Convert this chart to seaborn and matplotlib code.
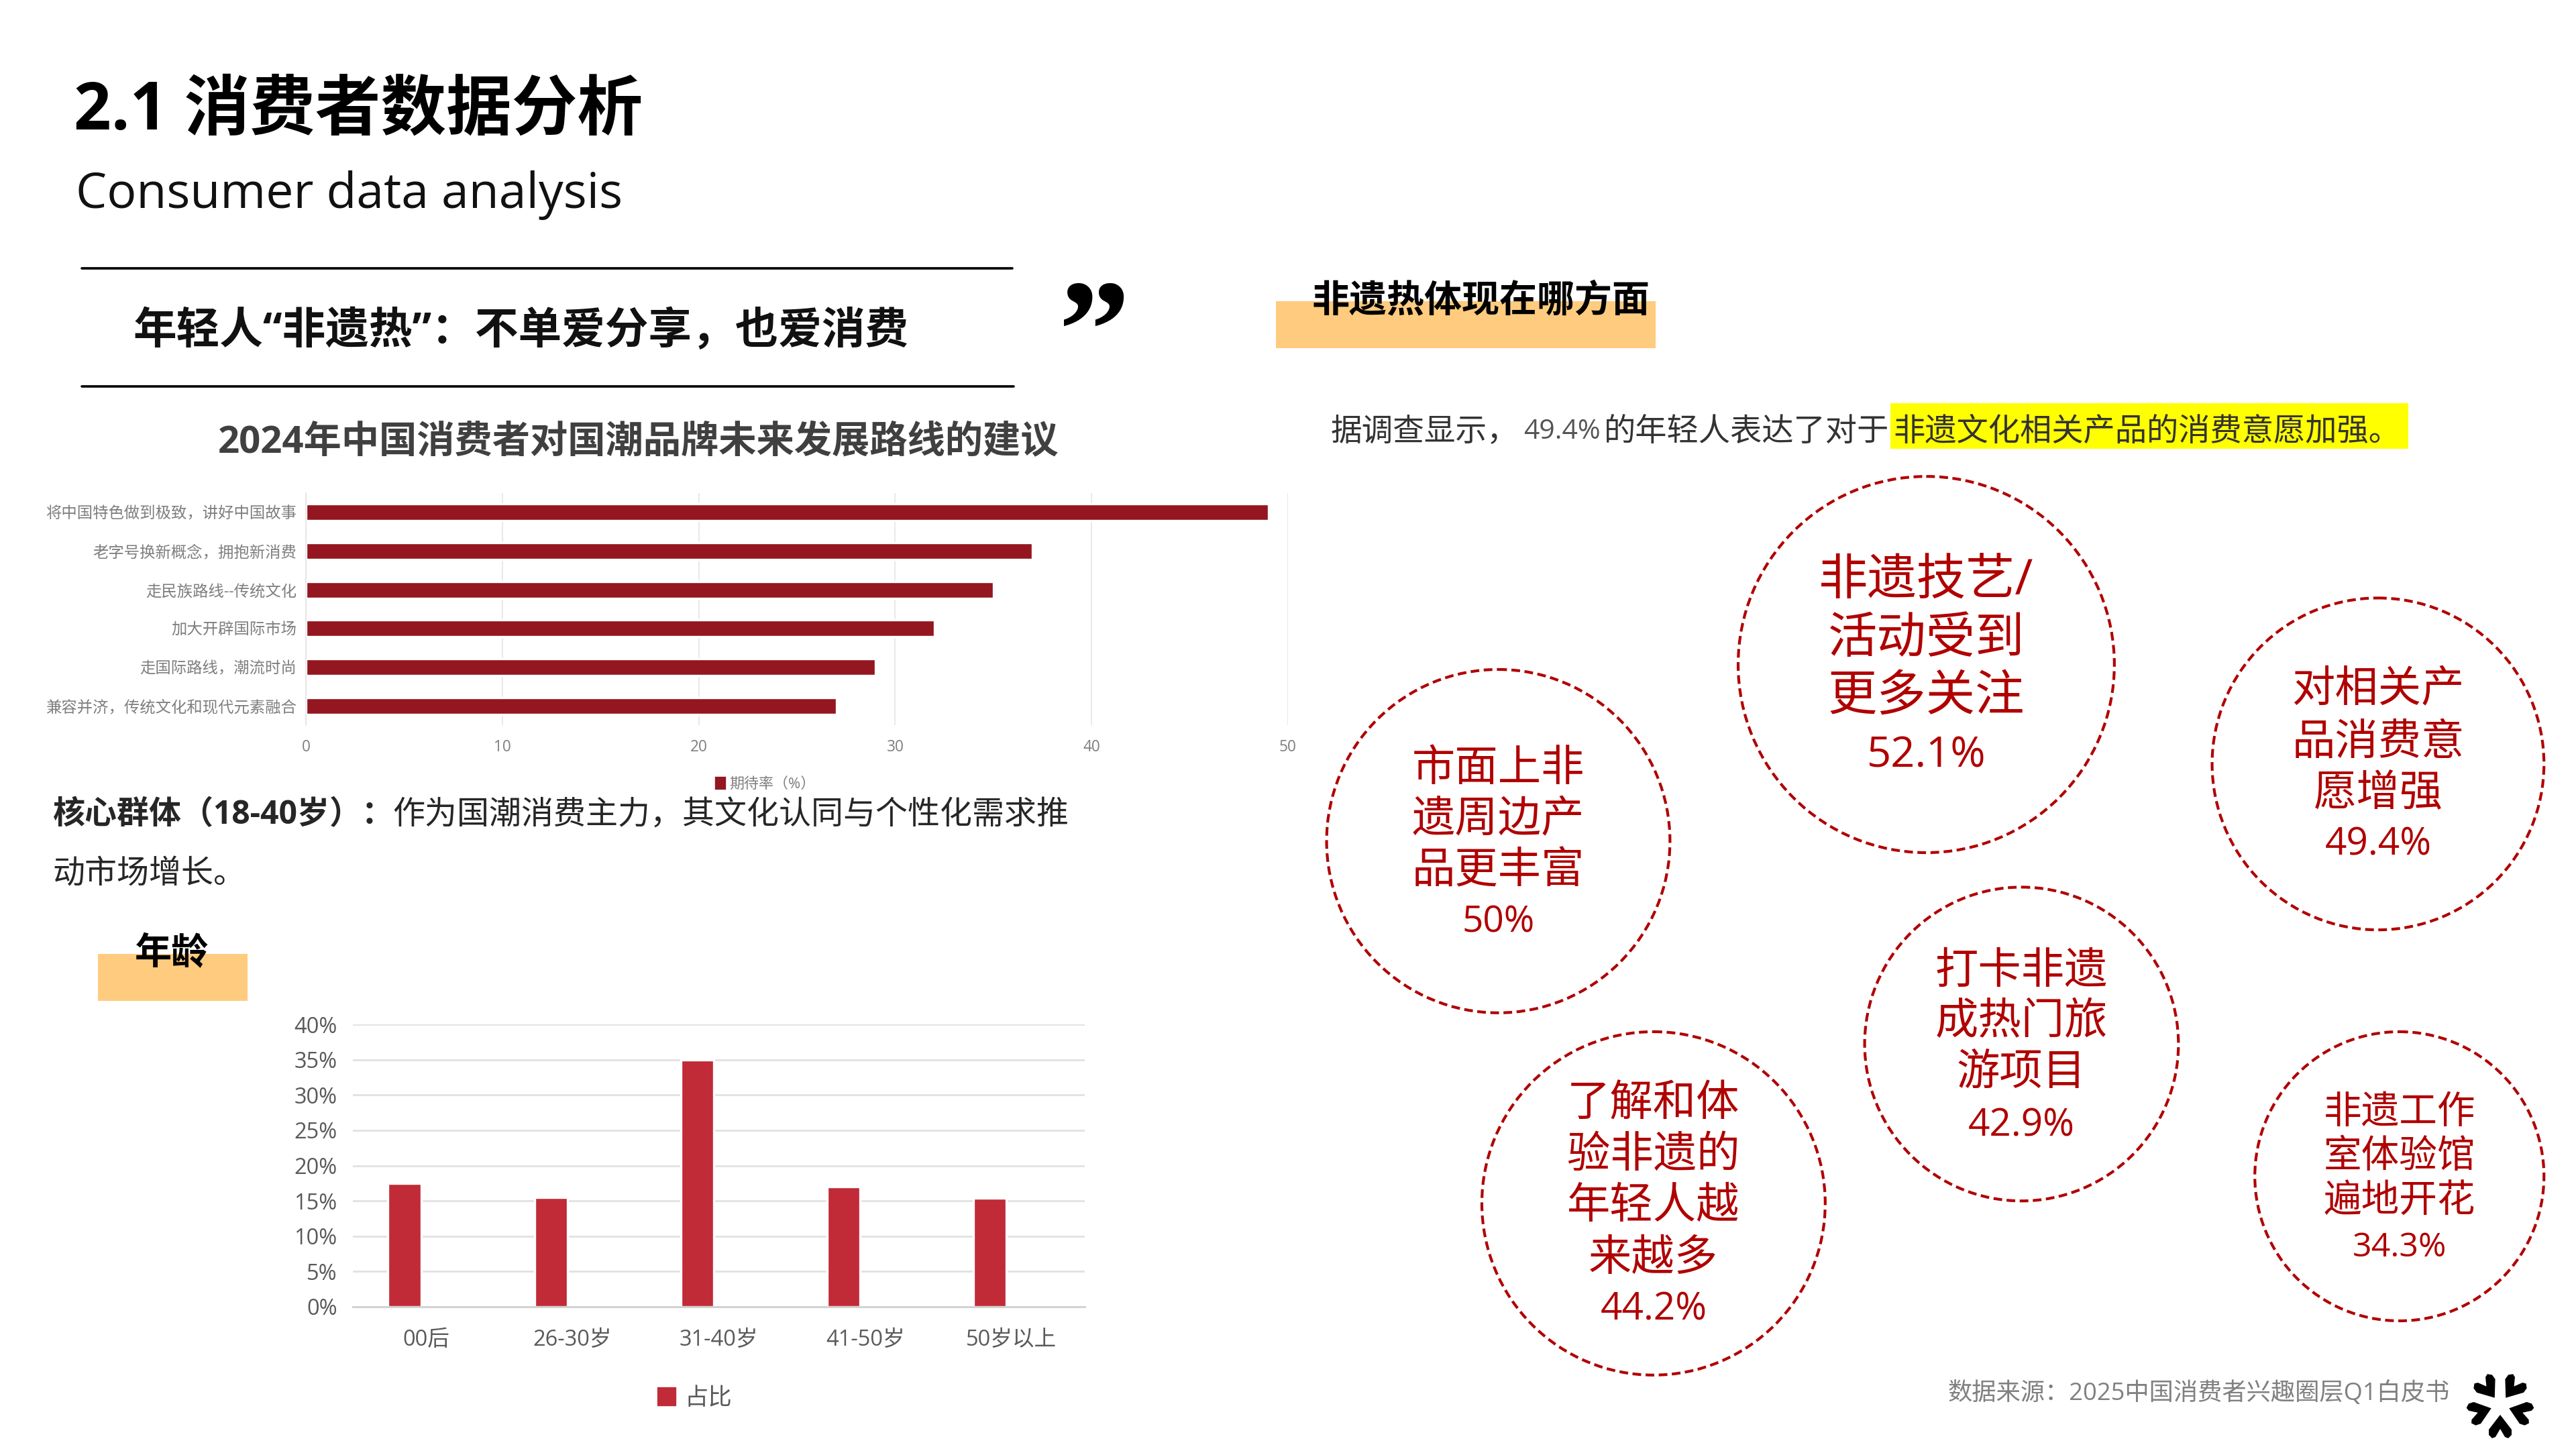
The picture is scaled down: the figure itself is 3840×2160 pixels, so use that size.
import numpy as np
import matplotlib
matplotlib.use("Agg")
import matplotlib.pyplot as plt
from matplotlib.patches import Rectangle, Circle, Polygon, Patch
import seaborn as sns

# ---------- data ----------
brand_routes = ["将中国特色做到极致，讲好中国故事", "老字号换新概念，拥抱新消费", "走民族路线--传统文化",
                "加大开辟国际市场", "走国际路线，潮流时尚", "兼容并济，传统文化和现代元素融合"]
brand_rates = [49, 37, 35, 32, 29, 27]
brand_series = "期待率（%）"

age_groups = ["00后", "26-30岁", "31-40岁", "41-50岁", "50岁以上"]
age_shares = [17.5, 15.5, 35, 17, 15.4]
age_series = "占比"

bubble_lines = [["市面上非", "遗周边产", "品更丰富"], ["非遗技艺/", "活动受到", "更多关注"],
                ["对相关产", "品消费意", "愿增强"], ["打卡非遗", "成热门旅", "游项目"],
                ["了解和体", "验非遗的", "年轻人越", "来越多"], ["非遗工作", "室体验馆", "遍地开花"]]
bubble_values = ["50%", "52.1%", "49.4%", "42.9%", "44.2%", "34.3%"]

# ---------- layout (reference pixels) ----------
W, H = 3840, 2160
S = 3840 / 1568
FONT = ["Open Sans", "Noto Sans CJK SC", "DejaVu Sans"]
bubble_geom = [(912, 512, 104.5, 19.3, 16.5, [466, 497, 528, 559]),
               (1172.5, 404.5, 114.5, 22, 19, [352, 387, 422, 458]),
               (1447.5, 465, 101, 19.3, 17, [418, 450, 481, 512]),
               (1230.5, 635.5, 95.5, 19.3, 17, [589, 620, 651, 683]),
               (1006.5, 732.5, 104.5, 19.3, 17, [670, 701, 732, 764, 795]),
               (1460.5, 716, 88, 17, 15, [675, 702, 729, 757])]
RED = "#B00000"
ORANGE = "#FFCB7F"

sns.set_theme(style="white")
plt.rcParams["font.family"] = FONT
plt.rcParams["axes.unicode_minus"] = False

fig = plt.figure(figsize=(16, 9), dpi=240, facecolor="white")


def axes_px(l, t, r, b, **kw):
    return fig.add_axes([l / W, 1 - b / H, (r - l) / W, (b - t) / H], **kw)


bg = axes_px(0, 0, W, H)
bg.set_xlim(0, W)
bg.set_ylim(H, 0)
bg.axis("off")


def txt(x, y, s, size, color="black", weight="normal", ha="left", va="center", **kw):
    return bg.text(x, y + 6, s, fontsize=size, color=color, fontweight=weight, ha=ha, va=va, **kw)


# ---------- header ----------
txt(110, 161, "2.1 消费者数据分析", 29.3, weight="bold")
txt(113, 285, "Consumer data analysis", 22, color="#111111")
bg.plot([122, 1509], [400, 400], color="black", lw=1.1)
bg.plot([122, 1511], [576, 576], color="black", lw=1.1)
txt(199, 490, "年轻人“非遗热”：不单爱分享，也爱消费", 19.4, weight="bold", color="#111111")
bg.text(1631, 563, "”", fontsize=64, fontweight="bold", ha="center", va="baseline",
        color="black", family=["Liberation Serif"])

txt(952, 655, "2024年中国消费者对国潮品牌未来发展路线的建议", 16.9, weight="bold", color="#404040", ha="center")

# ---------- horizontal bar chart ----------
ax1 = axes_px(456, 735, 1920, 1081)
ax1.patch.set_alpha(0)
sns.barplot(x=brand_rates, y=brand_routes, orient="h", color="#941620", saturation=1, width=0.43, ax=ax1)
ax1.set_xlim(0, 50)
ax1.set_xticks([0, 10, 20, 30, 40, 50])
ax1.set_xlabel("")
ax1.set_ylabel("")
ax1.set_axisbelow(True)
ax1.grid(axis="x", color="#e2e2e2", lw=0.45)
for name, sp in ax1.spines.items():
    sp.set_visible(name == "left")
    sp.set_color("#e2e2e2")
    sp.set_linewidth(0.45)
ax1.tick_params(axis="x", length=0, pad=6.2, labelsize=6.8, labelcolor="#7f7f7f")
ax1.tick_params(axis="y", length=0, pad=4.2, labelsize=7, labelcolor="#7f7f7f")
ax1.legend(handles=[Patch(color="#941620", label=brand_series)], loc="center",
           bbox_to_anchor=(1141 / W, 1 - 1169 / H), bbox_transform=fig.transFigure, frameon=False,
           fontsize=6.6, labelcolor="#7f7f7f", handlelength=0.6, handleheight=0.7, handletextpad=0.3,
           borderpad=0, borderaxespad=0)

# ---------- paragraph ----------
txt(78, 1210, "核心群体（18-40岁）：", 14.4, weight="bold", color="#262626")
txt(585, 1210, "作为国潮消费主力，其文化认同与个性化需求推", 14.4, color="#262626")
txt(78, 1298, "动市场增长。", 14.4, color="#262626")

# ---------- age section ----------
bg.add_patch(Rectangle((146, 1422), 223, 70, color=ORANGE, lw=0))
txt(256, 1417, "年龄", 16.5, weight="bold", ha="center")

ax2 = axes_px(526, 1527, 1617, 1948)
ax2.patch.set_alpha(0)
sns.barplot(x=age_groups, y=age_shares, color="#C02B37", saturation=1, width=0.225, ax=ax2)
for bar in ax2.patches:
    bar.set_x(bar.get_x() - 0.147)
ax2.set_xlim(-0.5, 4.5)
ax2.set_ylim(0, 40)
ax2.set_yticks(range(0, 45, 5))
ax2.set_yticklabels([f"{v}%" for v in range(0, 45, 5)])
ax2.set_xlabel("")
ax2.set_ylabel("")
ax2.set_axisbelow(True)
ax2.grid(axis="y", color="#e3e3e3", lw=0.9)
for name, sp in ax2.spines.items():
    sp.set_visible(name == "bottom")
    sp.set_color("#d2d2d2")
    sp.set_linewidth(0.9)
ax2.tick_params(axis="both", length=0, labelsize=9.8, labelcolor="#595959")
ax2.tick_params(axis="x", pad=10)
ax2.tick_params(axis="y", pad=7)
ax2.legend(handles=[Patch(color="#C02B37", label=age_series)], loc="center",
           bbox_to_anchor=(1036 / W, 1 - 2085 / H), bbox_transform=fig.transFigure, frameon=False,
           fontsize=10.6, labelcolor="#595959", handlelength=0.7, handleheight=0.7, handletextpad=0.4,
           borderpad=0, borderaxespad=0)

# ---------- right column ----------
bg.add_patch(Rectangle((1902, 449), 566, 70, color=ORANGE, lw=0))
txt(1956, 444, "非遗热体现在哪方面", 16.8, weight="bold")
bg.add_patch(Rectangle((2818, 601), 772, 68, color="#FFFF00", lw=0))
txt(1984, 638, "据调查显示，", 14, color="#333333")
txt(2271, 638, "49.4%", 12.3, color="#555555")
txt(2391, 638, "的年轻人表达了对于", 14.2, color="#333333")
txt(2822, 638, "非遗文化相关产品的消费意愿加强。", 14.2, color="#333333")

for lines, value, (cx, cy, r, fs, fv, ys) in zip(bubble_lines, bubble_values, bubble_geom):
    bg.add_patch(Circle((cx * S, cy * S), r * S, fill=False, edgecolor=RED, lw=1.25,
                        linestyle=(0, (3.1, 1.6))))
    for s, y in zip(lines, ys):
        txt(cx * S, y * S, s, fs, color=RED, ha="center")
    txt(cx * S, ys[-1] * S, value, fv, color=RED, ha="center")

# ---------- footer ----------
txt(3652, 2072, "数据来源：2025中国消费者兴趣圈层Q1白皮书", 10.9, color="#808080", ha="right")

petal = np.array([(0, 14), (17, 36), (17, 44), (12, 49), (7, 47), (0, 35),
                  (-7, 47), (-12, 49), (-17, 44), (-17, 36)], dtype=float)
for k in range(5):
    a = np.deg2rad(72 * k)
    rot = np.array([[np.cos(a), -np.sin(a)], [np.sin(a), np.cos(a)]])
    bg.add_patch(Polygon(petal @ rot.T + np.array([3727, 2095]), closed=True, color="black", lw=0))

fig.savefig("out.png", dpi=240)
